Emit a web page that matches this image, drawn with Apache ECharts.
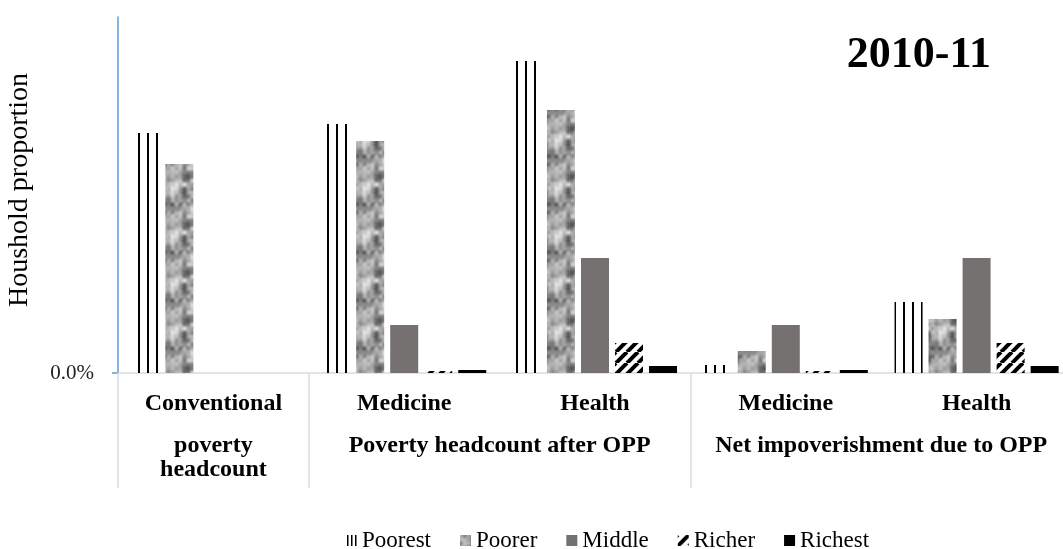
<!DOCTYPE html>
<html>
<head>
<meta charset="utf-8">
<script src="https://cdn.jsdelivr.net/npm/echarts@6/dist/echarts.min.js"></script>
<style>html,body{margin:0;padding:0;background:#fff;}#c{width:1063px;height:549px;}</style>
</head>
<body>
<div id="c"></div>
<script>
// ---- data ----
const categories = ['Conventional', 'Medicine', 'Health', 'Medicine', 'Health'];
const groupLabels = ['poverty\nheadcount', 'Poverty headcount after OPP', 'Net impoverishment due to OPP'];
const groupSpans = [1, 2, 2];
const seriesNames = ['Poorest', 'Poorer', 'Middle', 'Richer', 'Richest'];
const poorest = [0.240, 0.249, 0.312, 0.008, 0.071];
const poorer  = [0.209, 0.232, 0.263, 0.022, 0.054];
const middle  = [0.000, 0.048, 0.115, 0.048, 0.115];
const richer  = [0.000, 0.002, 0.030, 0.002, 0.030];
const richest = [0.000, 0.003, 0.007, 0.003, 0.007];
const yTickLabel = '0.0%';
const titleText = '2010-11';
const yName = 'Houshold proportion';

// ---- patterns ----
function patLines(w, lw) {
  const c = document.createElement('canvas'); c.width = w; c.height = 4;
  const x = c.getContext('2d'); x.fillStyle = '#000'; x.fillRect(Math.floor(w / 3), 0, lw, 4);
  return c;
}
function patNoise() {
  const N = 48;
  const c = document.createElement('canvas'); c.width = N; c.height = N;
  const x = c.getContext('2d');
  const img = x.createImageData(N, N);
  function vn(px, py, s, cs) {
    const p = N / cs;
    const gx = px / cs, gy = py / cs, i = Math.floor(gx), j = Math.floor(gy);
    const fx = gx - i, fy = gy - j;
    const sx = fx * fx * (3 - 2 * fx), sy = fy * fy * (3 - 2 * fy);
    const hh = (a, b) => { const v = Math.sin(((a % p + p) % p) * 127.1 + ((b % p + p) % p) * 311.7 + s * 74.7) * 43758.5453; return v - Math.floor(v); };
    const a = hh(i, j), b = hh(i + 1, j), cc = hh(i, j + 1), d = hh(i + 1, j + 1);
    return (a * (1 - sx) + b * sx) * (1 - sy) + (cc * (1 - sx) + d * sx) * sy;
  }
  for (let py = 0; py < N; py++) for (let px = 0; px < N; px++) {
    let v = 0.6 * vn(px, py, 1, 8) + 0.4 * vn(px, py, 2, 4);
    let g = Math.round(60 + v * 200);
    g = Math.min(235, Math.max(70, g));
    const k = (py * N + px) * 4;
    img.data[k] = g; img.data[k + 1] = g; img.data[k + 2] = g; img.data[k + 3] = 255;
  }
  x.putImageData(img, 0, 0);
  return c;
}
function patDiag() {
  const c = document.createElement('canvas'); c.width = 11; c.height = 11;
  const x = c.getContext('2d'); x.strokeStyle = '#000'; x.lineWidth = 4;
  for (let k = -1; k <= 1; k++) { x.beginPath(); x.moveTo(k * 11, 11); x.lineTo(k * 11 + 11, 0); x.stroke(); }
  return c;
}

// ---- group boundaries/centers from spans ----
const bounds = [0]; groupSpans.forEach(s => bounds.push(bounds[bounds.length - 1] + s));
const centers = groupSpans.map((s, i) => bounds[i] + s / 2);

const serif = 'Liberation Serif';
const fills = [
  { image: patLines(9, 2), repeat: 'repeat' },
  { image: patNoise(), repeat: 'repeat' },
  '#767171',
  { image: patDiag(), repeat: 'repeat' },
  '#000000'
];
const values = [poorest, poorer, middle, richer, richest];
const legendData = seriesNames.map((n, i) => i === 0
  ? { name: n, itemStyle: { color: { image: patLines(4, 1.5), repeat: 'repeat' } } }
  : { name: n });

const chart = echarts.init(document.getElementById('c'), null, { renderer: 'canvas' });
chart.setOption({
  animation: false,
  backgroundColor: '#fff',
  title: { text: titleText, right: 67, top: 29, textStyle: { fontFamily: serif, fontSize: 44, fontWeight: 'bold', color: '#000' } },
  legend: {
    left: 346, top: 529, padding: 0, itemWidth: 11, itemHeight: 11, itemGap: 29,
    icon: 'rect',
    textStyle: { fontFamily: serif, fontSize: 23, color: '#000' },
    data: legendData
  },
  grid: { left: 118, top: 17, width: 954, height: 356, outerBoundsMode: 'none' },
  xAxis: [{
    type: 'category', data: categories,
    axisLine: { lineStyle: { color: '#d9dce3', width: 1.5 } },
    axisTick: { show: false },
    axisLabel: { margin: 19, fontFamily: serif, fontSize: 24, fontWeight: 'bold', color: '#000', interval: 0 }
  }, {
    type: 'value', min: 0, max: bounds[bounds.length - 1], position: 'bottom',
    splitLine: { show: false },
    axisLine: { show: false },
    axisTick: { show: true, customValues: bounds, length: 115, lineStyle: { color: '#d9dce3', width: 1.5 } },
    axisLabel: {
      customValues: centers, margin: 61, fontFamily: serif, fontSize: 24, fontWeight: 'bold', color: '#000',
      lineHeight: 24, showMinLabel: true, showMaxLabel: true,
      formatter: v => { const i = centers.findIndex(c => Math.abs(c - v) < 1e-6); return i >= 0 ? groupLabels[i] : ''; }
    }
  }],
  yAxis: {
    type: 'value', min: 0, max: 0.356,
    name: yName, nameLocation: 'middle', nameGap: 84, nameRotate: 90,
    nameTextStyle: { fontFamily: serif, fontSize: 28, color: '#000', padding: [0, 0, 0, 10] },
    splitLine: { show: false },
    axisLine: { show: true, lineStyle: { color: '#5b9bd5', width: 1.5 } },
    axisTick: { show: true, customValues: [0], length: 6, lineStyle: { color: '#5b9bd5', width: 1.5 } },
    axisLabel: { customValues: [0], formatter: () => yTickLabel, margin: 24, fontFamily: serif, fontSize: 21, color: '#222' }
  },
  series: seriesNames.map((n, i) => ({
    name: n, type: 'bar', xAxisIndex: 0, data: values[i],
    barWidth: 28, barGap: '21.5%',
    itemStyle: { color: fills[i] }
  }))
});
</script>
</body>
</html>
